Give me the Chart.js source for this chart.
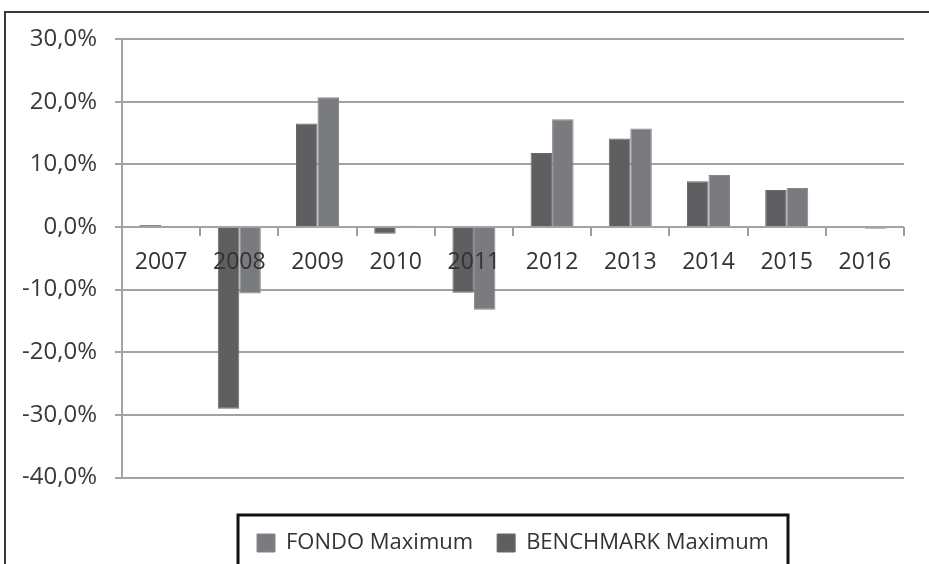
<!DOCTYPE html>
<html>
<head>
<meta charset="utf-8">
<script src="https://cdn.jsdelivr.net/npm/chart.js@4/dist/chart.umd.min.js"></script>
<style>
  html, body { margin:0; padding:0; background:#fff; overflow:hidden; }
  #moldura { position:absolute; left:4px; top:11px; width:960px; height:600px;
             border-top:2px solid #3a3a3a; border-left:2px solid #3a3a3a; }
  #wrap { position:absolute; left:0; top:0; width:929px; height:564px; }
</style>
</head>
<body>
<div id="moldura"></div>
<div id="wrap"><canvas id="chart-max"></canvas></div>
<script>
// Dados (em %)
const anos = ['2007','2008','2009','2010','2011','2012','2013','2014','2015','2016'];
const benchmarkMax = [0.3, -29.0, 16.5, -1.1, -10.5, 11.8, 14.1, 7.3, 5.9, 0.0];
const fondoMax     = [0.0, -10.6, 20.7, 0.2, -13.2, 17.2, 15.7, 8.3, 6.2, -0.3];
const yMin = -40, yMax = 30, yPasso = 10;

const FAMILIA = "'Open Sans', 'Liberation Sans', sans-serif";

// moldura preta em volta da legenda
const caixaLegenda = {
  id: 'caixaLegenda',
  afterDraw(chart) {
    const hb = chart.legend && chart.legend.legendHitBoxes;
    if (!hb || !hb.length) return;
    const x0 = Math.min(...hb.map(h => h.left)) - 19;
    const x1 = Math.max(...hb.map(h => h.left + h.width)) + 19;
    const y0 = hb[0].top - 17;
    const ctx = chart.ctx;
    ctx.save();
    ctx.strokeStyle = '#111';
    ctx.lineWidth = 3;
    ctx.strokeRect(x0, y0, x1 - x0, 90);
    ctx.restore();
  }
};

new Chart(document.getElementById('chart-max'), {
  type: 'bar',
  data: {
    labels: anos,
    datasets: [
      { label:'BENCHMARK Maximum', data:benchmarkMax, backgroundColor:'#5f5f61',
        borderColor:'#6a6a6c', borderWidth:1 },
      { label:'FONDO Maximum', data:fondoMax, backgroundColor:'#7a7b7e',
        borderColor:'#85868a', borderWidth:1 }
    ]
  },
  options: {
    responsive:true, maintainAspectRatio:false, animation:false,
    layout: { padding:{ top:39, right:25, bottom:0, left:0 } },
    datasets: { bar:{ categoryPercentage:0.55, barPercentage:1.0 } },
    plugins: {
      tooltip: { enabled:false },
      legend: {
        position:'bottom', reverse:true, fullSize:false,
        title: { display:true, text:' ', font:{ size:2 }, padding:{ top:0, bottom:28 } },
        labels: { font:{ family:FAMILIA, size:22 }, color:'#333', boxWidth:18, boxHeight:18, padding:24 }
      }
    },
    scales: {
      x: {
        position: { y:0 },
        grid: { offset:true, drawOnChartArea:false, tickLength:9, color:'#9c9c9c', lineWidth:2 },
        border: { display:false },
        // z:1 -> rótulos dos anos por cima das barras
        ticks: { z:1, font:{ family:FAMILIA, size:23 }, color:'#333', padding:13 }
      },
      y: {
        min:yMin, max:yMax,
        afterFit: s => { s.width = 122; },
        grid: { color:'#a3a3a3', lineWidth:2, tickLength:7 },
        border: { display:true, color:'#a3a3a3', width:2 },
        ticks: { stepSize:yPasso, font:{ family:FAMILIA, size:24 }, color:'#3a3a3a', padding:18,
                 callback: v => v.toFixed(1).replace('.', ',') + '%' }
      }
    }
  },
  plugins: [caixaLegenda]
});
</script>
</body>
</html>
